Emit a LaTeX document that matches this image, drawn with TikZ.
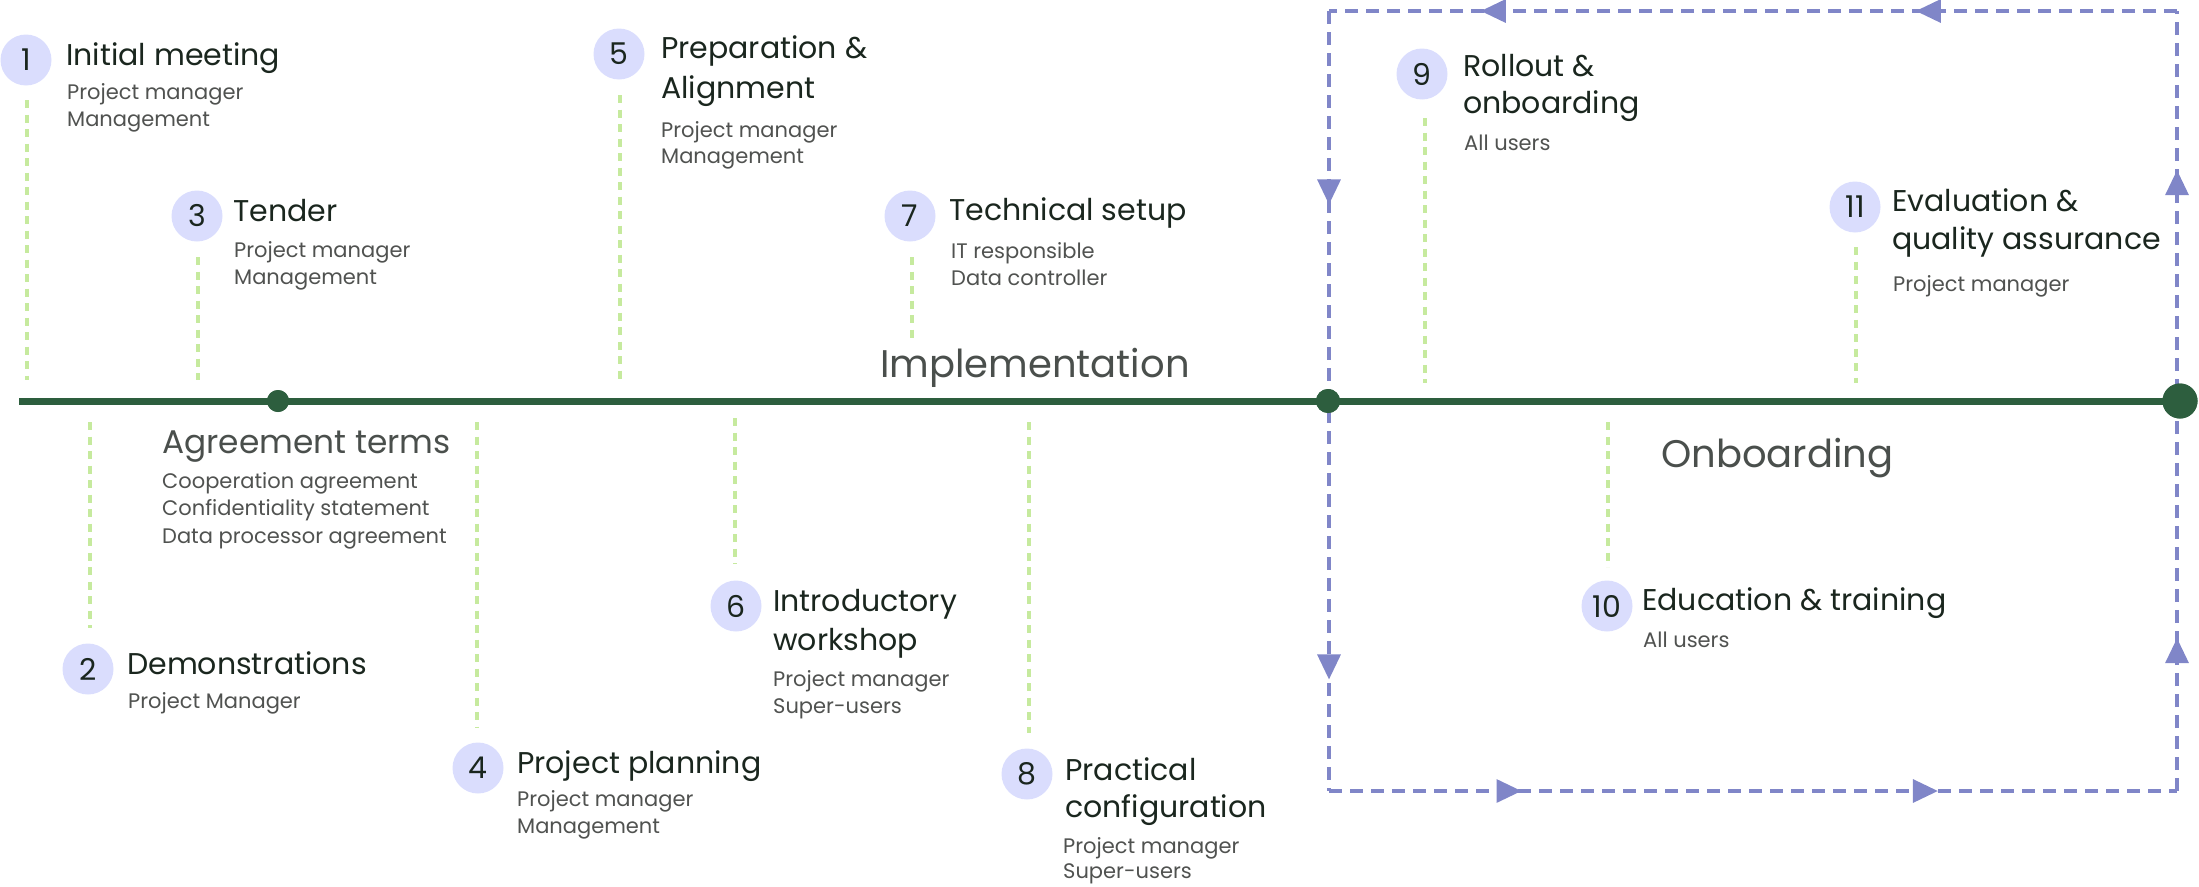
\documentclass[tikz,border=0pt]{standalone}
\usepackage{fontspec}
\setmainfont{Poppins}
\usetikzlibrary{arrows.meta,decorations.markings}

\definecolor{axisgreen}{RGB}{45,94,62}
\definecolor{numfill}{RGB}{218,221,253}
\definecolor{tickgreen}{RGB}{198,234,158}
\definecolor{loopblue}{RGB}{128,134,200}
\definecolor{titletxt}{RGB}{26,38,30}
\definecolor{roletxt}{RGB}{80,82,80}
\definecolor{phasetxt}{RGB}{74,79,76}

\begin{document}
\begin{tikzpicture}[x=1pt,y=-1pt,
  num/.style={circle,fill=numfill,minimum size=51pt,inner sep=0pt,text=titletxt,
    font=\fontsize{30}{30}\selectfont},
  title/.style={anchor=base west,inner sep=0pt,text=titletxt,font=\fontsize{30}{30}\selectfont},
  role/.style={anchor=base west,inner sep=0pt,text=roletxt,font=\fontsize{21}{21}\selectfont},
  phase/.style={anchor=base west,inner sep=0pt,text=phasetxt,font=\fontsize{38.5}{38.5}\selectfont},
  termhead/.style={anchor=base west,inner sep=0pt,text=phasetxt,font=\fontsize{32.8}{32.8}\selectfont},
  tick/.style={draw=tickgreen,line width=3.5pt,dash pattern=on 8pt off 6.5pt},
  loopline/.style={draw=loopblue,line width=3.3pt,dash pattern=on 13pt off 8pt},
  looptip/.style={-,postaction={decorate},decoration={markings,#1}},
  dot/.style={circle,fill=axisgreen,inner sep=0pt,minimum size=#1},
]
\useasboundingbox (0,0) rectangle (2199,886);

% ---------- onboarding loop ----------
\coordinate (lt) at (1329,11);
\coordinate (lb) at (1329,791);
\coordinate (rb) at (2177,791);
\coordinate (rt) at (2177,11);
\tikzset{tri/.tip={Triangle[length=25pt,width=23pt]}}
\draw[loopline,looptip={mark=at position 0.308 with {\arrow{tri}},mark=at position 0.821 with {\arrow{tri}}}] (rt) -- (lt);
\draw[loopline,looptip={mark=at position 0.248 with {\arrow{tri}},mark=at position 0.857 with {\arrow{tri}}}] (lt) -- (lb);
\draw[loopline,looptip={mark=at position 0.227 with {\arrow{tri}},mark=at position 0.718 with {\arrow{tri}}}] (lb) -- (rb);
\draw[loopline,looptip={mark=at position 0.196 with {\arrow{tri}},mark=at position 0.796 with {\arrow{tri}}}] (rb) -- (rt);

% ---------- timeline ----------
\coordinate (start) at (19,401);
\node[dot=22pt] (d1) at (278,401) {};
\node[dot=24pt] (d2) at (1328,401) {};
\node[dot=35pt] (d3) at (2180,401) {};
\draw[axisgreen,line width=7pt] (start) -- (d3.center);
\node[dot=22pt] at (d1) {};
\node[dot=24pt] at (d2) {};
\node[dot=35pt] at (d3) {};

% ---------- phase labels ----------
\node[termhead] (agr) at (162,453) {Agreement terms};
\node[role] (agr1) at (162,488) {Cooperation agreement};
\node[role] (agr2) at (162,515) {Confidentiality statement};
\node[role] (agr3) at (162,543) {Data processor agreement};
\node[phase] (impl) at (880,377) {Implementation};
\node[phase] (onb) at (1661,467) {Onboarding};

% ---------- ticks ----------
\coordinate (k1a) at (27,100);   \coordinate (k1b) at (27,380);
\coordinate (k2a) at (90,422);   \coordinate (k2b) at (90,628);
\coordinate (k3a) at (198,257);  \coordinate (k3b) at (198,380);
\coordinate (k4a) at (477,422);  \coordinate (k4b) at (477,728);
\coordinate (k5a) at (620,95);   \coordinate (k5b) at (620,380);
\coordinate (k6a) at (735,418);  \coordinate (k6b) at (735,564);
\coordinate (k7a) at (912,257);  \coordinate (k7b) at (912,338);
\coordinate (k8a) at (1029,422); \coordinate (k8b) at (1029,733);
\coordinate (k9a) at (1425,118); \coordinate (k9b) at (1425,383);
\coordinate (k10a) at (1608,422);\coordinate (k10b) at (1608,567);
\coordinate (k11a) at (1856,247);\coordinate (k11b) at (1856,383);
\foreach \k in {1,...,11} \draw[tick] (k\k a) -- (k\k b);

% ---------- steps ----------
\node[num] (c1) at (26,60) {1};
\node[title] (t1) at (66,65) {Initial meeting};
\node[role] (r1a) at (67,99) {Project manager};
\node[role] (r1b) at (67,126) {Management};

\node[num] (c2) at (88,669) {2};
\node[title] (t2) at (127,674) {Demonstrations};
\node[role] (r2a) at (128,708) {Project Manager};

\node[num] (c3) at (197,216) {3};
\node[title] (t3) at (233,221) {Tender};
\node[role] (r3a) at (234,257) {Project manager};
\node[role] (r3b) at (234,284) {Management};

\node[num] (c4) at (478,768) {4};
\node[title] (t4) at (517,773) {Project planning};
\node[role] (r4a) at (517,806) {Project manager};
\node[role] (r4b) at (517,833) {Management};

\node[num] (c5) at (619,54) {5};
\node[title] (t5a) at (661,58) {Preparation \&};
\node[title] (t5b) at (661,98) {Alignment};
\node[role] (r5a) at (661,137) {Project manager};
\node[role] (r5b) at (661,163) {Management};

\node[num] (c6) at (736,606) {6};
\node[title] (t6a) at (773,611) {Introductory};
\node[title] (t6b) at (773,650) {workshop};
\node[role] (r6a) at (773,686) {Project manager};
\node[role] (r6b) at (773,713) {Super-users};

\node[num] (c7) at (910,216) {7};
\node[title] (t7) at (949,220) {Technical setup};
\node[role] (r7a) at (951,258) {IT responsible};
\node[role] (r7b) at (951,285) {Data controller};

\node[num] (c8) at (1027,774) {8};
\node[title] (t8a) at (1065,780) {Practical};
\node[title] (t8b) at (1065,817) {configuration};
\node[role] (r8a) at (1063,853) {Project manager};
\node[role] (r8b) at (1063,878) {Super-users};

\node[num] (c9) at (1422,74) {9};
\node[title] (t9a) at (1463,76) {Rollout \&};
\node[title] (t9b) at (1463,113) {onboarding};
\node[role] (r9a) at (1464,150) {All users};

\node[num] (c10) at (1607,606) {10};
\node[title] (t10) at (1642,610) {Education \& training};
\node[role] (r10a) at (1643,647) {All users};

\node[num] (c11) at (1855,207) {11};
\node[title] (t11a) at (1892,211) {Evaluation \&};
\node[title] (t11b) at (1892,249) {quality assurance};
\node[role] (r11a) at (1893,291) {Project manager};
\end{tikzpicture}
\end{document}
